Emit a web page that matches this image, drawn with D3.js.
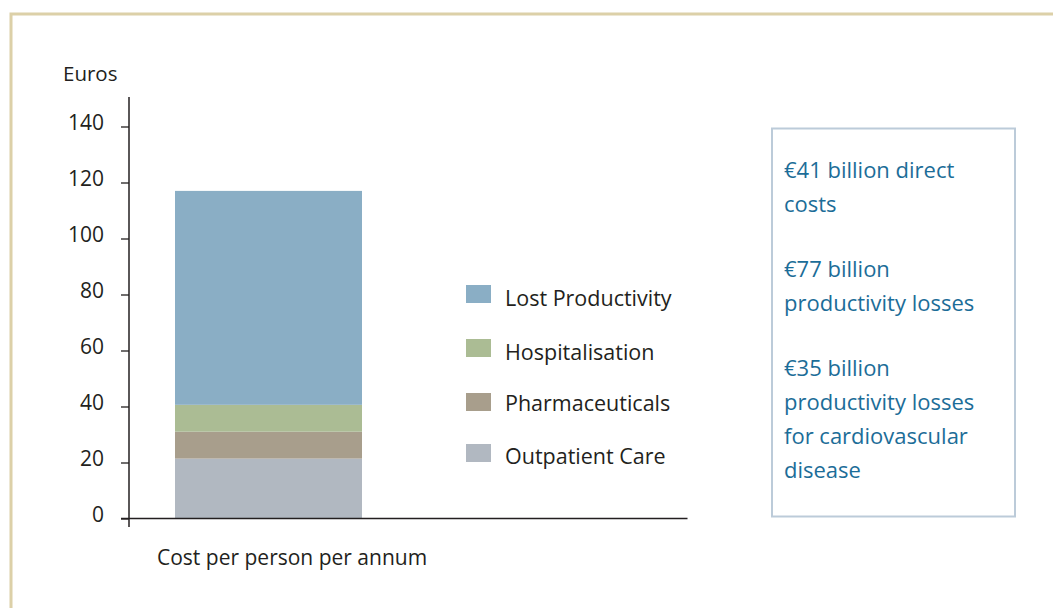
<!DOCTYPE html>
<html><head><meta charset="utf-8">
<script src="https://cdn.jsdelivr.net/npm/d3@7"></script>
<style>body{margin:0;background:#fff}svg{display:block}</style>
</head><body>
<svg id="c" width="1053" height="608"></svg>
<script>
const categories = ["Cost per person per annum"];
const seriesNames = ["Outpatient Care","Pharmaceuticals","Hospitalisation","Lost Productivity"];
const seriesValues = {"Outpatient Care":[21.4],"Pharmaceuticals":[9.6],"Hospitalisation":[9.6],"Lost Productivity":[76.4]};
const seriesColors = ["#b1b8c1","#a89e8c","#abbc94","#8aaec5"];
const yTicks = [0,20,40,60,80,100,120,140];
const legendOrder = ["Lost Productivity","Hospitalisation","Pharmaceuticals","Outpatient Care"];
const noteLines = [["€41 billion direct","costs"],["€77 billion","productivity losses"],["€35 billion","productivity losses","for cardiovascular","disease"]];

const svg = d3.select("#c");
const font = "'Open Sans', sans-serif";
const ink = "#231f20";
// frame
svg.append("path").attr("d","M11,608 V14 H1053").attr("fill","none").attr("stroke","#dcd0a8").attr("stroke-width",3);

const y = d3.scaleLinear().domain([0,150]).range([518.5,98.5]);
const x = d3.scaleBand().domain(categories).range([129,687]);

const table = categories.map((c,i)=>{const o={cat:c}; seriesNames.forEach(s=>o[s]=seriesValues[s][i]); return o;});
const stack = d3.stack().keys(seriesNames)(table);
const color = d3.scaleOrdinal().domain(seriesNames).range(seriesColors);

svg.append("g").selectAll("rect").data(stack).join("rect")
  .attr("x",175).attr("width",187)
  .attr("y",d=>y(d[0][1])).attr("height",d=>y(d[0][0])-y(d[0][1]))
  .attr("fill",d=>color(d.key));

// y axis
const ya = svg.append("g").attr("transform","translate(129,0)")
  .call(d3.axisLeft(y).tickValues(yTicks).tickSize(8).tickPadding(17).tickSizeOuter(0));
ya.select(".domain").remove();
ya.selectAll(".tick line").attr("stroke",ink).attr("stroke-width",1.3);
ya.selectAll("text").attr("font-family",font).attr("font-size",21).attr("fill",ink).attr("dy","0.12em");
svg.append("line").attr("x1",129).attr("x2",129).attr("y1",97).attr("y2",527).attr("stroke",ink).attr("stroke-width",1.5);
svg.append("line").attr("x1",121).attr("x2",687.5).attr("y1",518.5).attr("y2",518.5).attr("stroke",ink).attr("stroke-width",1.5);

svg.append("text").attr("x",63).attr("y",81).text("Euros").attr("font-family",font).attr("font-size",20.5).attr("fill",ink);
svg.append("text").attr("x",157).attr("y",565).text(categories[0]).attr("font-family",font).attr("font-size",21).attr("fill",ink);

// legend
const legSquareY = [285,339,393,444];
const legTextY = [306,360,411,464];
const lg = svg.append("g").selectAll("g").data(legendOrder).join("g");
lg.append("rect").attr("x",466).attr("y",(d,i)=>legSquareY[i]).attr("width",25).attr("height",18).attr("fill",d=>color(d));
lg.append("text").attr("x",505).attr("y",(d,i)=>legTextY[i]).text(d=>d).attr("font-family",font).attr("font-size",21.5).attr("fill",ink);

// note box
svg.append("rect").attr("x",772).attr("y",128.5).attr("width",243).attr("height",388).attr("fill","none").attr("stroke","#bccbd9").attr("stroke-width",2);
let ly = 178;
const nt = svg.append("g");
noteLines.forEach(block=>{
  block.forEach(l=>{nt.append("text").attr("x",784).attr("y",ly).text(l).attr("font-family",font).attr("font-size",22).attr("fill","#1c6d98"); ly+=34;});
  ly+=31;
});
</script>
</body></html>
